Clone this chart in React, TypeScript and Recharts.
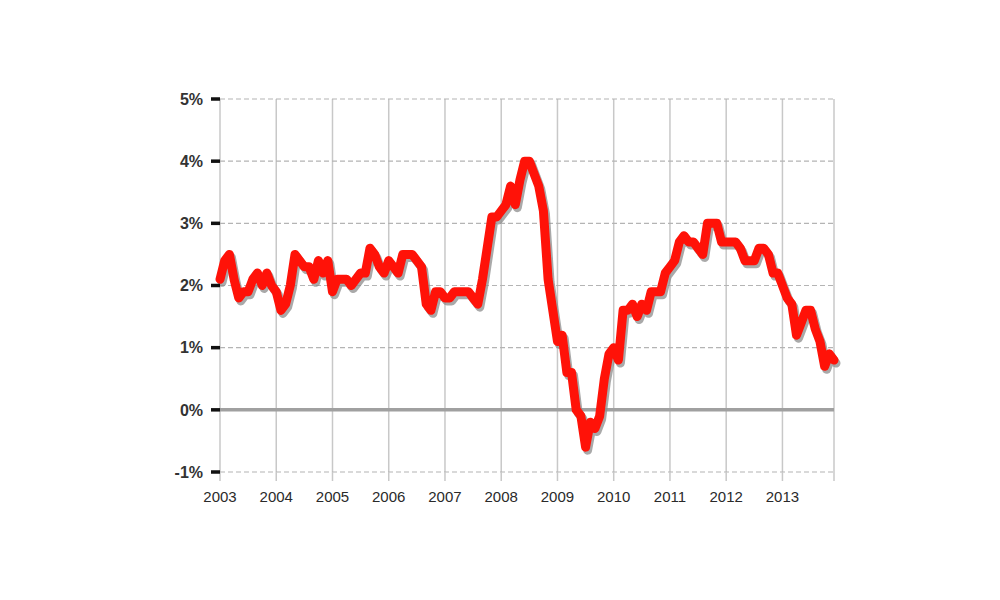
import React from "react";
import {
  LineChart,
  Line,
  XAxis,
  YAxis,
  CartesianGrid,
  ReferenceLine,
} from "recharts";

// Monthly inflation rate (% year on year), Jan..Dec
const years = [2003, 2004, 2005, 2006, 2007, 2008, 2009, 2010, 2011, 2012, 2013];
const rates2003 = [2.1, 2.4, 2.5, 2.1, 1.8, 1.9, 1.9, 2.1, 2.2, 2.0, 2.2, 2.0];
const rates2004 = [1.9, 1.6, 1.7, 2.0, 2.5, 2.4, 2.3, 2.3, 2.1, 2.4, 2.2, 2.4];
const rates2005 = [1.9, 2.1, 2.1, 2.1, 2.0, 2.1, 2.2, 2.2, 2.6, 2.5, 2.3, 2.2];
const rates2006 = [2.4, 2.3, 2.2, 2.5, 2.5, 2.5, 2.4, 2.3, 1.7, 1.6, 1.9, 1.9];
const rates2007 = [1.8, 1.8, 1.9, 1.9, 1.9, 1.9, 1.8, 1.7, 2.1, 2.6, 3.1, 3.1];
const rates2008 = [3.2, 3.3, 3.6, 3.3, 3.7, 4.0, 4.0, 3.8, 3.6, 3.2, 2.1, 1.6];
const rates2009 = [1.1, 1.2, 0.6, 0.6, 0.0, -0.1, -0.6, -0.2, -0.3, -0.1, 0.5, 0.9];
const rates2010 = [1.0, 0.8, 1.6, 1.6, 1.7, 1.5, 1.7, 1.6, 1.9, 1.9, 1.9, 2.2];
const rates2011 = [2.3, 2.4, 2.7, 2.8, 2.7, 2.7, 2.6, 2.5, 3.0, 3.0, 3.0, 2.7];
const rates2012 = [2.7, 2.7, 2.7, 2.6, 2.4, 2.4, 2.4, 2.6, 2.6, 2.5, 2.2, 2.2];
const rates2013 = [2.0, 1.8, 1.7, 1.2, 1.4, 1.6, 1.6, 1.3, 1.1, 0.7, 0.9, 0.8];

const yTicks = [-1, 0, 1, 2, 3, 4, 5];
const xEnd = 2013 + 11 / 12;
const xTicks = [...years, xEnd];

const allRates = [
  rates2003, rates2004, rates2005, rates2006, rates2007, rates2008,
  rates2009, rates2010, rates2011, rates2012, rates2013,
];

const data = allRates.flatMap((row, i) =>
  row.map((v, m) => ({ t: years[i] + m / 12, rate: v }))
);

export default function App() {
  return (
    <div style={{ width: 1000, height: 600, background: "#fff" }}>
      <style>{`
        body { margin: 0; }
        .red-line path { filter: drop-shadow(2px 3px 0.6px rgba(140,140,140,0.75)); }
      `}</style>
      <LineChart
        width={1000}
        height={600}
        data={data}
        margin={{ top: 99, right: 166, bottom: 98, left: 150 }}
      >
        <CartesianGrid
          horizontal={false}
          stroke="#c8c8c8"
          strokeWidth={1.5}
        />
        {yTicks
          .filter((v) => v !== 0)
          .map((v) => (
            <ReferenceLine
              key={v}
              y={v}
              stroke="#b4b4b4"
              strokeWidth={1.2}
              strokeDasharray="5 3"
            />
          ))}
        <ReferenceLine y={0} stroke="#a0a0a0" strokeWidth={3.5} />
        <XAxis
          type="number"
          dataKey="t"
          domain={[2003, xEnd]}
          ticks={xTicks}
          tickFormatter={(v: number) => (Number.isInteger(v) ? String(v) : "")}
          axisLine={false}
          tickLine={{ stroke: "#c8c8c8", strokeWidth: 1.5 }}
          tickSize={9}
          tickMargin={10}
          height={30}
          tick={{ fill: "#2a2a2a", fontSize: 15, fontFamily: "Liberation Sans, Arial, sans-serif" }}
        />
        <YAxis
          type="number"
          domain={[-1, 5]}
          ticks={yTicks}
          tickFormatter={(v: number) => `${v}%`}
          axisLine={false}
          tickLine={{ stroke: "#111", strokeWidth: 3.5 }}
          tickSize={9}
          tickMargin={8}
          width={70}
          tick={{ fill: "#333", fontSize: 16, fontWeight: 700, fontFamily: "Liberation Sans, Arial, sans-serif" }}
        />
        <Line
          className="red-line"
          type="linear"
          dataKey="rate"
          stroke="#ff1208"
          strokeWidth={9}
          strokeLinejoin="round"
          strokeLinecap="round"
          dot={false}
          isAnimationActive={false}
        />
      </LineChart>
    </div>
  );
}
